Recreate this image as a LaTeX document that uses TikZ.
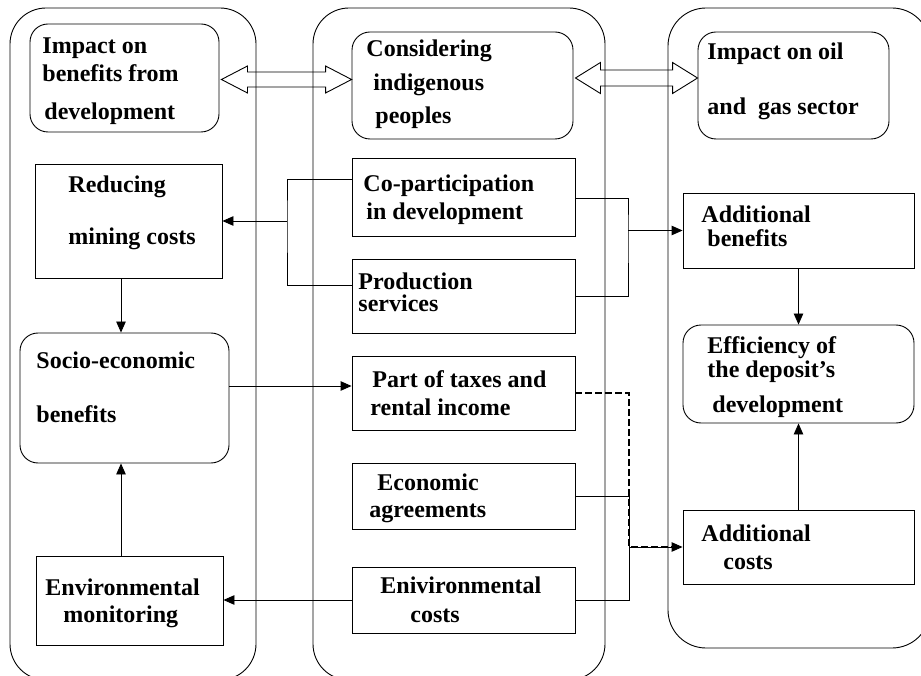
\documentclass[tikz,border=0pt]{standalone}
\usepackage{fontspec}
\setmainfont{Liberation Serif}
\usetikzlibrary{arrows.meta,calc}
\begin{document}
\begin{tikzpicture}[x=1pt,y=-1pt,
  line width=0.9pt,
  container/.style={draw, rounded corners=36pt, inner sep=0pt},
  box/.style={draw, inner sep=0pt},
  rbox/.style={draw, rounded corners=18pt, inner sep=0pt},
  txt/.style={anchor=base west, inner sep=0pt, font=\fontsize{24}{28}\selectfont\bfseries},
  arr/.style={-{Triangle[length=11pt,width=9.5pt]}},
  dashline/.style={line width=1.5pt, dash pattern=on 6.5pt off 3.5pt},
]
\useasboundingbox (0,0) rectangle (921,676);
\clip (0,0) rectangle (921,676);
\fill[white] (0,0) rectangle (921,676);

% containers
\node[container, minimum width=246pt, minimum height=672pt] (colL) at (133,344) {};
\node[container, minimum width=292pt, minimum height=672pt] (colM) at (459,344) {};
\node[container, rounded corners=38pt, minimum width=262pt, minimum height=640pt] (colR) at (799,328) {};

% boxes
\node[rbox, minimum width=189pt, minimum height=108pt] (imp) at (124.5,78) {};
\node[box,  minimum width=187pt, minimum height=114pt] (red) at (128.5,221) {};
\node[rbox, minimum width=209pt, minimum height=130pt] (soc) at (124.5,398) {};
\node[box,  minimum width=187pt, minimum height=89pt]  (env) at (129.5,600.5) {};

\node[rbox, minimum width=221pt, minimum height=107pt] (con) at (462.5,85.5) {};
\node[box,  minimum width=223pt, minimum height=78pt]  (cop) at (463.5,197) {};
\node[box,  minimum width=223pt, minimum height=74pt]  (pro) at (463.5,296) {};
\node[box,  minimum width=223pt, minimum height=74pt]  (tax) at (463.5,393) {};
\node[box,  minimum width=223pt, minimum height=66pt]  (eco) at (463.5,496) {};
\node[box,  minimum width=223pt, minimum height=66pt]  (ecs) at (463.5,600) {};

\node[rbox, minimum width=191pt, minimum height=107pt] (oil) at (793.5,85.5) {};
\node[box,  minimum width=231pt, minimum height=75pt]  (adb) at (798.5,230.5) {};
\node[rbox, minimum width=231pt, minimum height=98pt]  (eff) at (798.5,374) {};
\node[box,  minimum width=231pt, minimum height=74pt]  (adc) at (798.5,547) {};

% texts
\node[txt] (t1a) at (42,54) {Impact on};
\node[txt] (t1b) at (42,82) {benefits from};
\node[txt] (t1c) at (44,120) {development};
\node[txt] (t2a) at (366,57) {Considering};
\node[txt] (t2b) at (373,91) {indigenous};
\node[txt] (t2c) at (375,124) {peoples};
\node[txt] (t3a) at (707,60) {Impact on oil};
\node[txt] (t3b) at (707,115) {and\ \ gas sector};
\node[txt] (t4a) at (68,193) {Reducing};
\node[txt] (t4b) at (68,245) {mining costs};
\node[txt] (t5a) at (363,192) {Co-participation};
\node[txt] (t5b) at (366,220) {in development};
\node[txt] (t6a) at (701,223) {Additional};
\node[txt] (t6b) at (707,247) {benefits};
\node[txt] (t7a) at (358,290) {Production};
\node[txt] (t7b) at (358,312) {services};
\node[txt] (t8a) at (36,368) {Socio-economic};
\node[txt] (t8b) at (36,422) {benefits};
\node[txt] (t9a) at (372,387) {Part of taxes and};
\node[txt] (t9b) at (370,415) {rental income};
\node[txt] (t10a) at (707,353) {Efficiency of};
\node[txt] (t10b) at (707,377) {the deposit’s};
\node[txt] (t10c) at (712,412) {development};
\node[txt] (t11a) at (377,490) {Economic};
\node[txt] (t11b) at (369,517) {agreements};
\node[txt] (t12a) at (45,595) {Environmental};
\node[txt] (t12b) at (63,622) {monitoring};
\node[txt] (t13a) at (380,593) {Enivironmental};
\node[txt] (t13b) at (410,622) {costs};
\node[txt] (t14a) at (701,541) {Additional};
\node[txt] (t14b) at (723,569) {costs};

% hollow double arrows
\newcommand\hollowdbl[5]{%
  \draw (#1) -- ($(#1)+(#5,-#4)$) -- ($(#1)+(#5,-#3)$) -- ($(#2)+(-#5,-#3)$)
    -- ($(#2)+(-#5,-#4)$) -- (#2) -- ($(#2)+(-#5,#4)$) -- ($(#2)+(-#5,#3)$)
    -- ($(#1)+(#5,#3)$) -- ($(#1)+(#5,#4)$) -- cycle;}
\coordinate (d1l) at ($(imp.east)+(2,1.5)$);
\coordinate (d1r) at (con.west |- d1l);
\hollowdbl{d1l}{d1r}{7.5}{13.5}{26}
\coordinate (d2l) at ($(con.east)+(2,-7.5)$);
\coordinate (d2r) at (oil.west |- d2l);
\hollowdbl{d2l}{d2r}{8}{15.5}{25}

% bracket left
\coordinate (j1) at (287,221);
\draw ([yshift=18pt]cop.west) -| (j1) |- ([yshift=11pt]pro.west);
\draw[arr] (j1) -- (red.east);
% bracket right
\coordinate (j2) at (628,230.5);
\draw ([yshift=-1pt]cop.east) -| (j2) |- (pro.east);
\draw[arr] (j2) -- (adb.west);

\draw[arr] ([xshift=-7.5pt]red.south) -- ([xshift=-3.5pt]soc.north);
\draw[arr] ([xshift=-8.5pt]env.north) -- ([xshift=-3.5pt]soc.south);
\draw[arr] ([yshift=12pt]soc.east) -- ([yshift=7pt]tax.west);
\draw[arr] (ecs.west) -- (env.east |- ecs.west);

\coordinate (j3) at (629,547);
\draw (eco.east) -| (j3);
\draw (ecs.east) -| (j3);
\draw[arr] (j3) -- (adc.west);
\draw[dashline] (tax.east) -| (j3) -- ([xshift=-11pt]adc.west);

\draw[arr] (adb.south) -- (eff.north);
\draw[arr] (adc.north) -- (eff.south);
\end{tikzpicture}
\end{document}
